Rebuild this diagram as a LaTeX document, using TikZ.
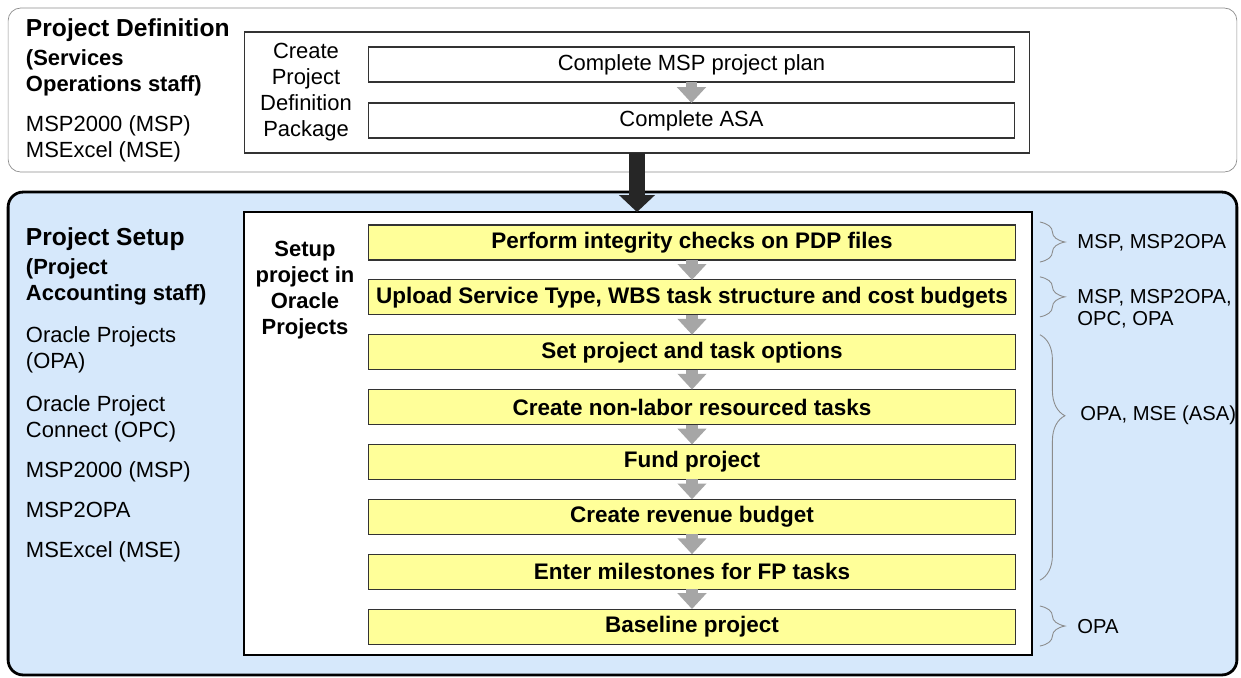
\documentclass[tikz,border=0pt]{standalone}
\usepackage{fontspec}
\setmainfont{Liberation Sans}
\usepackage{xcolor}
\usepackage{tikz}
\usetikzlibrary{positioning,calc,arrows.meta,decorations.pathreplacing}

\definecolor{setupblue}{RGB}{214,232,251}
\definecolor{taskyellow}{RGB}{255,255,153}

\begin{document}
\begin{tikzpicture}[x=0.02cm, y=-0.02cm,
    every node/.style={inner sep=0pt, outer sep=0pt},
    task/.style={draw=black!80, line width=0.6pt, fill=white, minimum width=12.94cm, minimum height=0.7cm, font=\fontsize{12.5}{15}\selectfont},
    ytask/.style={task, fill=taskyellow, font=\fontsize{12.8}{15}\selectfont\bfseries},
    garr/.style={draw=black!35, line width=6.3pt, -{Triangle[length=9pt,width=16pt]}},
    brc/.style={draw=black!45, line width=0.5pt, decorate, decoration={brace, amplitude=0.5cm}},
    head/.style={anchor=base west, font=\fontsize{14}{16}\selectfont\bfseries},
    sub/.style={anchor=base west, align=left, font=\fontsize{12.5}{14.8}\selectfont\bfseries},
    tool/.style={anchor=base west, align=left, font=\fontsize{12.5}{14.8}\selectfont},
    tag/.style={anchor=west, align=left, font=\fontsize{11.5}{12.5}\selectfont}
]
    \useasboundingbox (0,0) rectangle (1241,677);

    % Project Definition (base of a block = its last line)
    \node[draw=black!45, rounded corners=0.25cm, minimum width=24.58cm, minimum height=3.28cm] (defbg) at (622.5,90) {};
    \node[head] (deftitle) at (26,36) {Project Definition};
    \node[sub] (defstaff) at (26,91) {(Services\\Operations staff)};
    \node[tool] (deftools) at (26,157) {MSP2000 (MSP)\\MSExcel (MSE)};
    \node[draw=black!80, line width=0.6pt, minimum width=15.72cm, minimum height=2.42cm] (defbox) at (637,92.5) {};
    \node[align=center, font=\fontsize{12.5}{14.8}\selectfont] (defpkg) at (306,92) {Create\\Project\\Definition\\Package};
    \node[task] (t1) at (691.5,64.5) {Complete MSP project plan};
    \node[task] (t2) at (691.5,120.5) {Complete ASA};
    \draw[garr] (t1) -- (t2);

    % Project Setup
    \node[draw, line width=1.6pt, fill=setupblue, rounded corners=0.3cm, minimum width=24.58cm, minimum height=9.66cm] (setupbg) at (622.5,433.5) {};
    \node[draw, line width=1.1pt, fill=white, minimum width=15.76cm, minimum height=8.86cm] (setup) at (638,433.5) {};
    \draw[black!85, line width=9pt, -{Triangle[length=9.7pt,width=20pt]}] (defbox.south) -- (defbox.south |- setup.north);

    \node[head] (setuptitle) at (26,245) {Project Setup};
    \node[sub] (setupstaff) at (26,300) {(Project\\Accounting staff)};
    \node[tool] (opa) at (26,368) {Oracle Projects\\(OPA)};
    \node[tool] (opc) at (26,437) {Oracle Project\\Connect (OPC)};
    \node[tool] (msp) at (26,477) {MSP2000 (MSP)};
    \node[tool] (m2o) at (26,517) {MSP2OPA};
    \node[tool] (mse) at (26,557) {MSExcel (MSE)};
    \node[sub, align=center, anchor=base] (setuptxt) at (305,334) {Setup\\project in\\Oracle\\Projects};

    % steps
    \foreach \t [count=\i] in {Perform integrity checks on PDP files, {Upload Service Type, WBS task structure and cost budgets}, Set project and task options, Create non-labor resourced tasks, Fund project, Create revenue budget, Enter milestones for FP tasks, Baseline project}
        \node[ytask] (b\i) at (692,242.5+54.86*\i-54.86) {\t};
    \foreach \i [count=\j from 2] in {1,...,7}
        \draw[garr] (b\i) -- (b\j);

    % tools per step
    \draw[brc] ($(setup.east |- b1.north)+(8,-3)$) -- ($(setup.east |- b1.south)+(8,2)$);
    \draw[brc] ($(setup.east |- b2.north)+(8,-3)$) -- ($(setup.east |- b2.south)+(8,2)$);
    \draw[brc, decoration={aspect=0.33}] ($(setup.east |- b3.north)+(8,0)$) -- ($(setup.east |- b7.south)+(8,-9)$);
    \draw[brc] ($(setup.east |- b8.north)+(8,-3)$) -- ($(setup.east |- b8.south)+(8,2)$);
    \node[tag] (tag1) at ($(b1.east)+(62,0)$) {MSP, MSP2OPA};
    \node[tag] (tag2) at ($(b2.east)+(62,11)$) {MSP, MSP2OPA,\\OPC, OPA};
    \node[tag] (tag3) at ($(b4.east)+(65,8)$) {OPA, MSE (ASA)};
    \node[tag] (tag4) at ($(b8.east)+(62,0)$) {OPA};
\end{tikzpicture}
\end{document}
